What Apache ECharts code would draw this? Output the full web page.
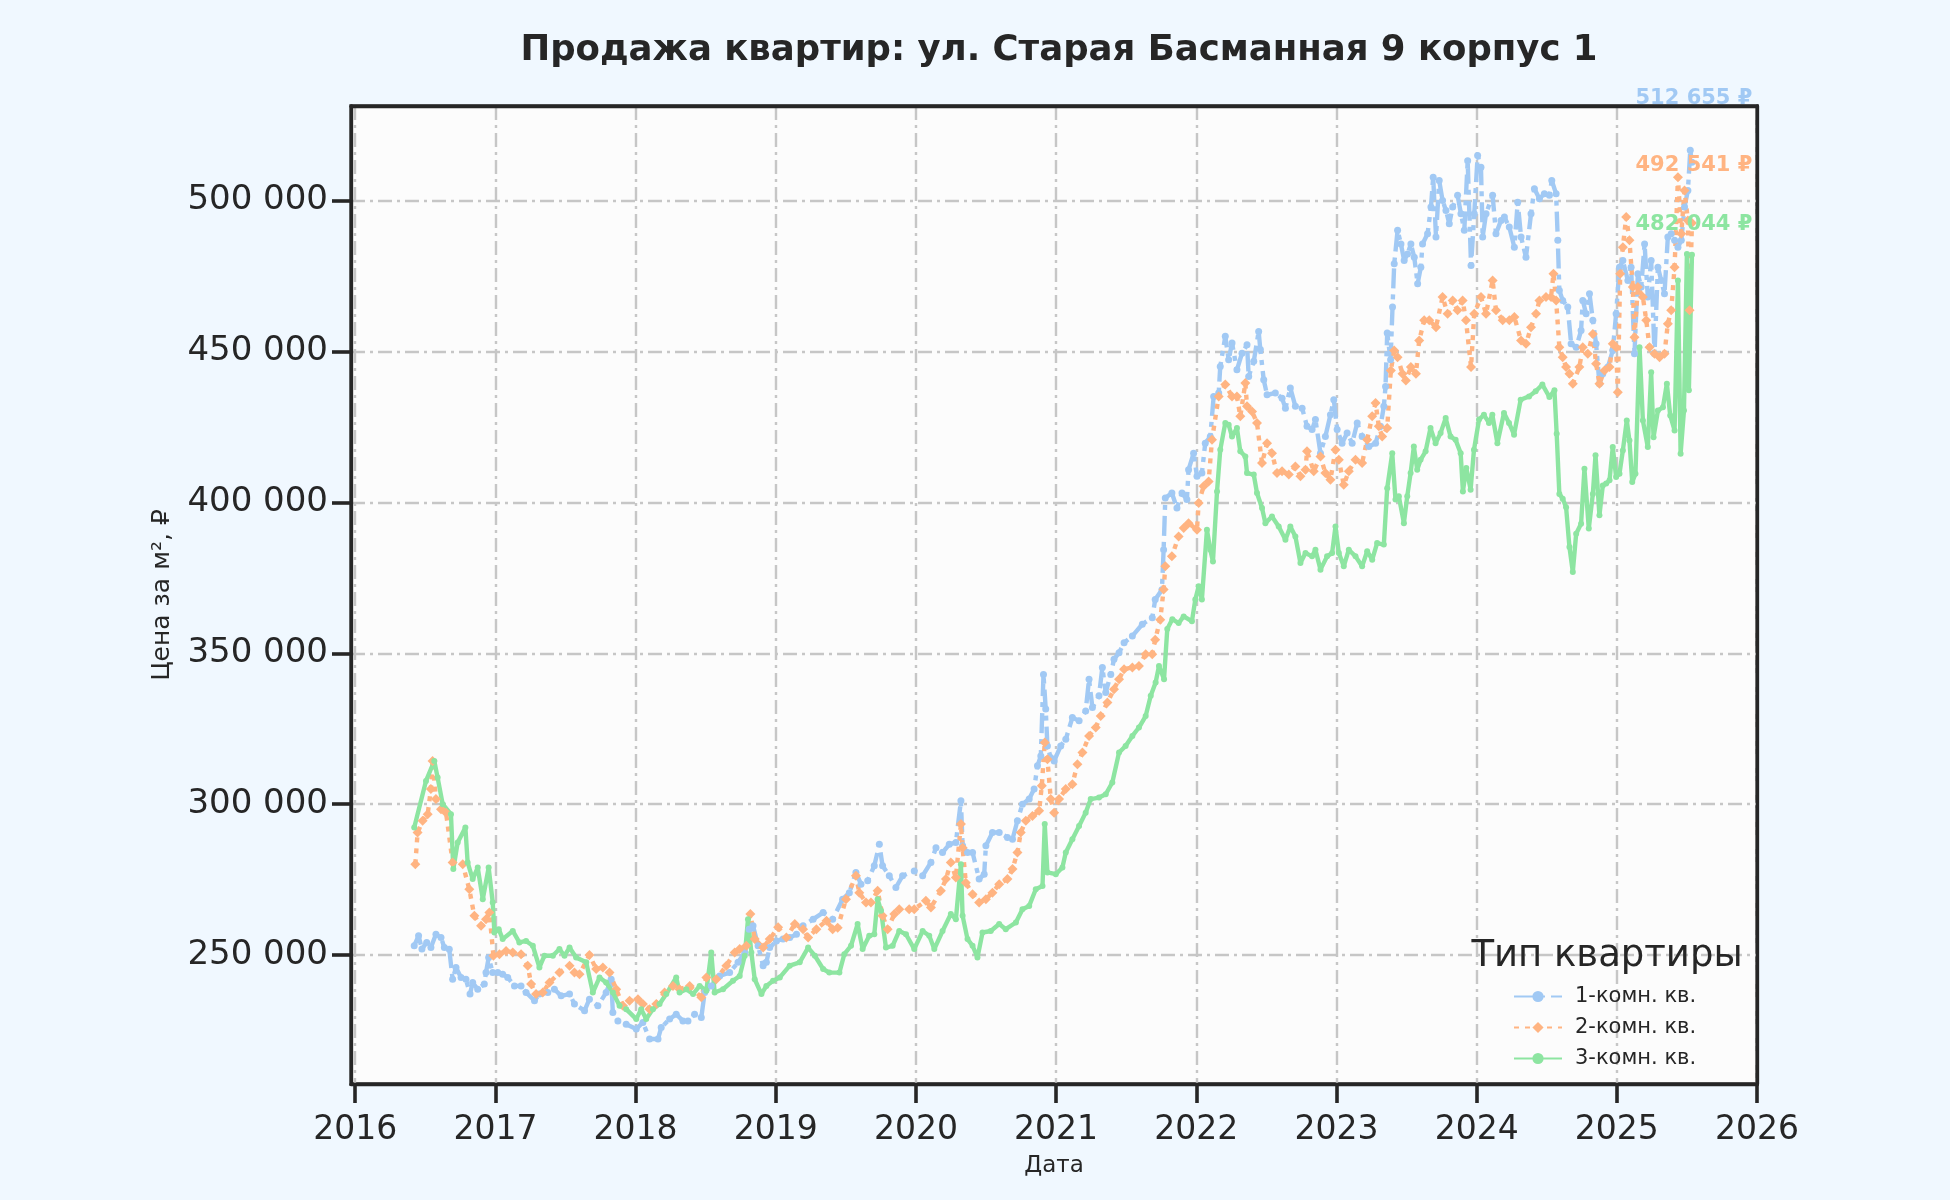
<!DOCTYPE html>
<html><head><meta charset="utf-8">
<script src="https://cdn.jsdelivr.net/npm/echarts/dist/echarts.min.js"></script>
<style>html,body{margin:0;padding:0;background:#f0f8ff}#c{width:1950px;height:1200px}</style>
</head><body><div id="c"></div><script>
const seriesNames = ['1-комн. кв.', '2-комн. кв.', '3-комн. кв.'];
const yTicks = [250000, 300000, 350000, 400000, 450000, 500000];
const xTicks = [2016, 2017, 2018, 2019, 2020, 2021, 2022, 2023, 2024, 2025, 2026];

const years1 = [2016.421,2016.452,2016.476,2016.510,2016.540,2016.576,2016.612,2016.636,2016.671,2016.695,2016.719,2016.755,2016.790,2016.819,2016.838,2016.874,2016.921,2016.933,2016.952,2016.981,2017.017,2017.052,2017.088,2017.136,2017.183,2017.219,2017.279,2017.314,2017.374,2017.421,2017.469,2017.529,2017.564,2017.636,2017.671,2017.731,2017.790,2017.826,2017.838,2017.874,2017.933,2018.005,2018.052,2018.100,2018.160,2018.183,2018.243,2018.290,2018.338,2018.374,2018.421,2018.469,2018.493,2018.540,2018.600,2018.671,2018.731,2018.779,2018.810,2018.838,2018.874,2018.910,2018.933,2018.957,2019.005,2019.052,2019.100,2019.148,2019.195,2019.267,2019.338,2019.406,2019.477,2019.525,2019.572,2019.608,2019.656,2019.703,2019.739,2019.762,2019.810,2019.857,2019.905,2019.988,2020.048,2020.107,2020.143,2020.190,2020.238,2020.285,2020.321,2020.333,2020.368,2020.404,2020.451,2020.487,2020.499,2020.546,2020.594,2020.653,2020.689,2020.724,2020.760,2020.808,2020.843,2020.867,2020.891,2020.910,2020.926,2020.938,2020.962,2020.986,2021.033,2021.069,2021.116,2021.164,2021.211,2021.235,2021.259,2021.306,2021.330,2021.354,2021.390,2021.413,2021.449,2021.485,2021.544,2021.615,2021.686,2021.707,2021.755,2021.767,2021.779,2021.826,2021.862,2021.898,2021.933,2021.945,2021.981,2022.005,2022.040,2022.064,2022.100,2022.124,2022.160,2022.171,2022.207,2022.231,2022.255,2022.290,2022.326,2022.362,2022.374,2022.410,2022.445,2022.457,2022.481,2022.505,2022.564,2022.612,2022.636,2022.671,2022.707,2022.755,2022.790,2022.826,2022.850,2022.886,2022.921,2022.957,2022.981,2023.005,2023.040,2023.076,2023.112,2023.148,2023.183,2023.231,2023.279,2023.314,2023.338,2023.350,2023.362,2023.386,2023.400,2023.412,2023.436,2023.460,2023.483,2023.507,2023.531,2023.555,2023.579,2023.602,2023.614,2023.650,2023.674,2023.690,2023.710,2023.733,2023.757,2023.781,2023.805,2023.829,2023.864,2023.888,2023.912,2023.936,2023.960,2023.983,2024.007,2024.031,2024.043,2024.067,2024.114,2024.138,2024.174,2024.198,2024.233,2024.269,2024.293,2024.317,2024.352,2024.388,2024.412,2024.448,2024.483,2024.519,2024.536,2024.567,2024.579,2024.590,2024.614,2024.650,2024.674,2024.710,2024.745,2024.757,2024.781,2024.805,2024.829,2024.852,2024.876,2024.900,2024.936,2024.971,2024.995,2025.019,2025.043,2025.079,2025.102,2025.126,2025.150,2025.174,2025.198,2025.221,2025.245,2025.269,2025.293,2025.317,2025.340,2025.364,2025.388,2025.412,2025.436,2025.460,2025.483,2025.507,2025.524,2025.536];
const price1 = [253100,256400,252000,254200,252500,256900,255800,252500,251900,242000,245900,242600,242000,237100,240900,238700,240400,244200,249200,244200,244200,243700,242600,239800,239800,237600,234900,237100,237600,238700,236500,237100,233800,231600,235400,233200,237600,242000,231000,228200,227100,225500,227700,222200,222200,226000,228800,230400,228200,228200,230400,229300,237600,239800,243100,244200,247600,250900,258600,259700,253100,246500,247600,252500,254700,255300,255800,256900,259700,261900,264100,261900,268500,270700,277400,273500,274600,279600,286700,279600,276300,272400,276300,277900,276300,280700,285600,284000,286700,287300,301100,286200,284000,284000,275200,276800,286200,290600,290600,289000,288400,294500,300000,301700,305000,312700,316000,343000,331500,319300,315400,314300,319300,321500,328700,327600,330900,341400,332000,335900,345300,337000,343000,348000,350200,353500,355700,359600,361800,367800,371000,384300,401400,403100,398100,403100,400900,410800,416300,408600,409700,419600,421800,435100,436200,445000,455000,447200,452800,443900,449400,452200,441700,446700,456600,450600,440600,435600,436200,434500,431200,437900,431800,431200,425200,424100,427400,416300,421800,429000,434000,424100,419600,423000,419600,426300,421800,418500,419600,425200,431800,438400,456100,447200,464700,479000,490100,485600,480100,482300,485600,481200,472400,477900,485600,489000,497800,507700,487900,506600,500000,496700,492300,497800,501700,495600,490100,513200,478500,495600,514900,511000,487900,495600,501700,489000,493400,494500,491200,484500,499400,487900,481200,495600,503900,500600,502200,501700,506600,502200,486800,470200,466900,464700,452500,451400,456900,466900,462500,469100,460300,452500,439300,442600,444800,450300,462500,477900,480100,473500,477900,449200,475700,471300,485600,468000,480100,449200,477900,473500,469100,487900,489000,486800,484500,486800,497800,503300,516600,512655];

const years2 = [2016.429,2016.445,2016.481,2016.517,2016.540,2016.552,2016.576,2016.612,2016.648,2016.695,2016.767,2016.814,2016.850,2016.898,2016.933,2016.957,2016.986,2017.029,2017.076,2017.124,2017.183,2017.231,2017.255,2017.290,2017.338,2017.386,2017.457,2017.529,2017.564,2017.600,2017.671,2017.719,2017.767,2017.814,2017.862,2017.910,2017.957,2018.017,2018.052,2018.100,2018.148,2018.207,2018.267,2018.314,2018.386,2018.469,2018.505,2018.576,2018.648,2018.707,2018.743,2018.790,2018.819,2018.850,2018.910,2018.957,2019.017,2019.076,2019.136,2019.195,2019.231,2019.290,2019.362,2019.406,2019.442,2019.501,2019.572,2019.596,2019.644,2019.679,2019.727,2019.762,2019.798,2019.846,2019.881,2019.952,2019.988,2020.071,2020.107,2020.178,2020.214,2020.249,2020.285,2020.321,2020.333,2020.356,2020.404,2020.451,2020.499,2020.546,2020.594,2020.653,2020.689,2020.724,2020.748,2020.784,2020.831,2020.879,2020.898,2020.919,2020.938,2020.962,2020.986,2021.021,2021.069,2021.116,2021.152,2021.188,2021.235,2021.283,2021.318,2021.366,2021.413,2021.449,2021.485,2021.544,2021.591,2021.639,2021.686,2021.707,2021.743,2021.767,2021.779,2021.826,2021.874,2021.910,2021.945,2022.005,2022.017,2022.052,2022.088,2022.112,2022.160,2022.207,2022.255,2022.290,2022.314,2022.350,2022.362,2022.398,2022.433,2022.469,2022.505,2022.540,2022.576,2022.612,2022.660,2022.707,2022.743,2022.779,2022.790,2022.838,2022.886,2022.921,2022.957,2022.993,2023.017,2023.052,2023.088,2023.136,2023.183,2023.219,2023.255,2023.279,2023.302,2023.326,2023.362,2023.388,2023.412,2023.436,2023.471,2023.495,2023.531,2023.567,2023.590,2023.626,2023.662,2023.710,2023.757,2023.793,2023.829,2023.864,2023.900,2023.924,2023.960,2023.983,2024.031,2024.067,2024.114,2024.138,2024.186,2024.233,2024.269,2024.317,2024.352,2024.388,2024.424,2024.448,2024.495,2024.531,2024.548,2024.567,2024.590,2024.614,2024.638,2024.662,2024.686,2024.733,2024.757,2024.793,2024.829,2024.852,2024.876,2024.912,2024.948,2024.971,2024.995,2025.007,2025.024,2025.043,2025.067,2025.090,2025.114,2025.126,2025.150,2025.186,2025.210,2025.233,2025.269,2025.305,2025.340,2025.364,2025.388,2025.412,2025.436,2025.460,2025.483,2025.507,2025.519,2025.536];
const price2 = [280100,290600,294500,296700,305000,314300,301700,298300,297200,280700,280100,271800,263000,259700,261900,264100,249800,250300,251400,250900,250300,246500,240400,237100,237600,240900,244200,246500,244200,243700,250000,245400,245900,244200,238700,233200,234900,235400,233800,232100,233800,237600,239800,238700,239800,236000,242600,242000,246500,250900,252000,253100,263600,255300,252500,255300,259200,255800,260300,258600,255800,258600,261400,258600,259100,268500,276300,270700,267400,267400,271300,263000,258600,263600,265200,265200,265200,268000,265800,271300,275200,280700,275700,293400,285600,274000,270200,267400,268500,270700,273500,275200,278500,284000,290600,294500,296100,297800,306100,320400,314900,301700,297200,301700,305000,306600,313200,317100,322600,325400,329200,333700,338100,341400,344700,345300,345800,349700,349700,354500,361100,371100,378800,382100,388700,391500,393100,390900,399800,405300,406900,420700,435100,439000,435100,435100,428500,439500,431800,430100,426300,413000,419600,416300,409700,410300,409200,411900,408600,410800,416900,410300,415200,409700,407500,417400,414100,405800,410300,414100,413000,420700,428500,432900,425200,421800,424600,443700,450300,448100,442600,440400,444800,442600,453600,460300,460300,458000,468000,462500,466900,463600,466900,460300,444800,462500,468000,462500,473500,463600,460300,460300,461400,453600,452500,458000,462500,466900,468000,468000,475700,466900,451400,448100,444800,442600,439300,444800,451400,449200,455800,445900,439300,443700,444800,452500,451400,436500,475700,484500,494500,486800,471300,454700,471300,468000,460300,451400,449200,448100,449200,459200,463600,477900,507700,489000,503300,493400,463600,492541];

const years3 = [2016.421,2016.505,2016.564,2016.588,2016.624,2016.683,2016.700,2016.731,2016.786,2016.802,2016.838,2016.874,2016.910,2016.952,2016.981,2016.993,2017.024,2017.052,2017.124,2017.171,2017.219,2017.267,2017.314,2017.350,2017.410,2017.457,2017.493,2017.529,2017.576,2017.648,2017.695,2017.743,2017.790,2017.838,2017.886,2017.933,2018.005,2018.040,2018.076,2018.124,2018.171,2018.219,2018.290,2018.314,2018.362,2018.410,2018.457,2018.505,2018.540,2018.564,2018.624,2018.695,2018.743,2018.779,2018.802,2018.826,2018.850,2018.898,2018.933,2018.981,2019.029,2019.100,2019.171,2019.231,2019.279,2019.338,2019.382,2019.454,2019.489,2019.537,2019.584,2019.620,2019.667,2019.703,2019.727,2019.751,2019.786,2019.834,2019.881,2019.929,2019.988,2020.048,2020.095,2020.131,2020.190,2020.249,2020.285,2020.321,2020.333,2020.368,2020.404,2020.439,2020.475,2020.534,2020.594,2020.641,2020.713,2020.760,2020.808,2020.855,2020.903,2020.919,2020.938,2020.998,2021.045,2021.069,2021.116,2021.164,2021.211,2021.247,2021.306,2021.354,2021.401,2021.449,2021.496,2021.544,2021.591,2021.639,2021.675,2021.710,2021.734,2021.770,2021.793,2021.829,2021.874,2021.910,2021.969,2021.993,2022.017,2022.040,2022.076,2022.100,2022.119,2022.148,2022.171,2022.207,2022.231,2022.255,2022.290,2022.314,2022.350,2022.362,2022.410,2022.433,2022.469,2022.493,2022.540,2022.588,2022.636,2022.671,2022.707,2022.743,2022.779,2022.826,2022.850,2022.886,2022.933,2022.969,2022.993,2023.017,2023.052,2023.088,2023.136,2023.183,2023.219,2023.255,2023.290,2023.338,2023.362,2023.398,2023.421,2023.445,2023.481,2023.505,2023.529,2023.552,2023.576,2023.600,2023.636,2023.671,2023.707,2023.743,2023.779,2023.814,2023.850,2023.886,2023.902,2023.926,2023.957,2023.981,2024.017,2024.052,2024.088,2024.112,2024.148,2024.195,2024.231,2024.267,2024.314,2024.374,2024.421,2024.469,2024.519,2024.555,2024.571,2024.590,2024.614,2024.638,2024.662,2024.686,2024.710,2024.745,2024.769,2024.800,2024.829,2024.848,2024.876,2024.900,2024.924,2024.948,2024.971,2024.995,2025.019,2025.043,2025.071,2025.090,2025.110,2025.133,2025.162,2025.186,2025.221,2025.245,2025.262,2025.293,2025.329,2025.357,2025.381,2025.412,2025.436,2025.455,2025.479,2025.500,2025.514,2025.536];
const price3 = [292300,307700,314300,308800,300000,296700,278500,287300,292300,280700,275200,279000,268500,279000,267400,257500,258600,255300,258000,254200,254700,253100,245900,249800,249800,252000,249800,252500,249200,247600,237600,242600,240900,237600,233200,232100,228800,232100,228800,232100,233800,237100,242600,237600,238700,237100,239800,238200,250900,237600,238700,241500,243100,249800,261900,250900,242000,237100,239800,241500,242600,246500,247600,252500,249800,245400,244200,244200,250300,253100,260300,252000,256400,256900,268500,264700,252500,253100,258000,256900,252000,258000,256400,252000,258000,263600,261900,280100,263000,255300,253100,249200,257500,258000,260300,258600,260800,265200,266300,271800,272900,293400,277400,276800,279000,284000,288400,292800,297200,301700,302200,303300,307200,317100,319300,322600,325400,329200,335900,340300,345800,341400,358000,361300,360000,362200,360600,367800,372200,367800,390900,384300,380400,403600,417400,426300,425700,421800,424600,416900,415200,409700,409200,403100,398100,393100,395300,392000,387600,392000,388700,379900,383200,382100,384300,377700,382100,383200,392000,383200,378800,384300,382100,378800,383800,381000,386500,386000,404700,416300,400900,402000,393100,402000,409700,418500,410800,414100,416900,424600,419600,423000,427900,421800,420700,416300,403600,411400,404200,417400,427400,429000,426300,429000,419600,429600,426300,422400,434000,435100,436800,439000,434900,437100,422700,402800,401200,398400,385200,376900,389600,392900,411100,391300,402800,415600,395700,405600,406200,407300,418300,408400,409500,417200,427100,420500,406700,409500,451400,427100,418300,443100,421600,430400,431500,439300,428800,423800,473500,416100,430400,482300,437100,482044];

const colors = ['#a1c9f4', '#ffb482', '#8de5a1'];
const symbols = ['circle', 'diamond', 'circle'];
const symbolSizes = [7, 10, 6];
const dashes = [[20, 6, 5, 6], [5, 6], 'solid'];
const labelOffsets = [[2, -64], [2, -57], [2, -30]];

const fmt = v => String(Math.round(v)).replace(/\B(?=(\d{3})+(?!\d))/g, ' ');
const allYears = [years1, years2, years3];
const allPrices = [price1, price2, price3];
const TXT = '#262626';
const FONT = 'DejaVu Sans';
const X_MIN = 2015.97, X_MAX = 2026.0, Y_MIN = 207300, Y_MAX = 531300;

const series = seriesNames.map((name, i) => {
  const ys = allYears[i], ps = allPrices[i];
  const data = ys.map((y, j) => [y, ps[j]]);
  const last = data[data.length - 1];
  return {
    name, type: 'line', data, xAxisIndex: 0, yAxisIndex: 0,
    showSymbol: true, showAllSymbol: true,
    symbol: symbols[i], symbolSize: symbolSizes[i],
    itemStyle: { color: colors[i] },
    lineStyle: { color: colors[i], width: 4.4, type: dashes[i] },
    emphasis: { disabled: true },
    animation: false,
    markPoint: {
      symbol: 'circle', symbolSize: 1,
      itemStyle: { color: 'rgba(0,0,0,0)' },
      data: [{ coord: last, value: last[1] }],
      label: {
        show: true, position: 'inside', offset: labelOffsets[i],
        formatter: p => fmt(p.value) + ' ₽',
        color: colors[i], fontWeight: 'bold', fontSize: 21, fontFamily: FONT
      }
    }
  };
});

const frameAxis = (pos) => ({
  type: 'value', position: pos, z: 10,
  min: (pos === 'top' ? X_MIN : Y_MIN), max: (pos === 'top' ? X_MAX : Y_MAX),
  axisLine: { show: true, onZero: false, lineStyle: { color: TXT, width: 3.3 } },
  axisTick: { show: false }, axisLabel: { show: false }, splitLine: { show: false }
});

const chart = echarts.init(document.getElementById('c'), null, { renderer: 'canvas' });
chart.setOption({
  backgroundColor: '#f0f8ff',
  animation: false,
  textStyle: { fontFamily: FONT, color: TXT },
  title: [
    { text: 'Продажа квартир: ул. Старая Басманная 9 корпус 1', left: 1054, top: 28, textAlign: 'center',
      textStyle: { fontFamily: FONT, fontWeight: 'bold', fontSize: 35.5, color: TXT } },
    { text: 'Тип квартиры', left: 1602, top: 933, textAlign: 'center',
      textStyle: { fontFamily: FONT, fontWeight: 'normal', fontSize: 37, color: TXT } }
  ],
  legend: {
    data: seriesNames, orient: 'vertical', left: 1508, top: 981,
    itemWidth: 48, itemHeight: 14, itemGap: 10,
    textStyle: { fontFamily: FONT, fontSize: 21, color: TXT, padding: [0, 0, 0, 8] }
  },
  grid: { left: 351, right: 193, top: 106, bottom: 116, show: true,
    backgroundColor: '#fcfcfc', borderColor: TXT, borderWidth: 3.3, containLabel: false },
  xAxis: [{
    type: 'value', min: X_MIN, max: X_MAX, position: 'bottom',
    name: 'Дата', nameLocation: 'middle', nameGap: 71,
    nameTextStyle: { fontFamily: FONT, fontSize: 23, color: TXT },
    axisLine: { show: true, onZero: false, lineStyle: { color: TXT, width: 3.3 } },
    axisTick: { show: true, customValues: xTicks, length: 19, lineStyle: { color: TXT, width: 3.6 } },
    axisLabel: { customValues: xTicks, formatter: v => String(v), fontSize: 33, color: TXT, margin: 30, fontFamily: FONT },
    splitLine: { show: true, lineStyle: { color: '#c6c6c6', width: 2.4, type: [14, 5, 3, 5] } }
  }, frameAxis('top')],
  yAxis: [{
    type: 'value', min: Y_MIN, max: Y_MAX, position: 'left',
    name: 'Цена за м², ₽', nameLocation: 'middle', nameGap: 176, nameRotate: 90,
    nameTextStyle: { fontFamily: FONT, fontSize: 25, color: TXT },
    axisLine: { show: true, onZero: false, lineStyle: { color: TXT, width: 3.3 } },
    axisTick: { show: true, customValues: yTicks, length: 19, lineStyle: { color: TXT, width: 3.6 } },
    axisLabel: { customValues: yTicks, formatter: v => fmt(v), fontSize: 34, color: TXT, margin: 23, fontFamily: FONT },
    splitLine: { show: true, lineStyle: { color: '#c6c6c6', width: 2.4, type: [14, 5, 3, 5] } }
  }, frameAxis('right')],
  series
});
</script></body></html>
